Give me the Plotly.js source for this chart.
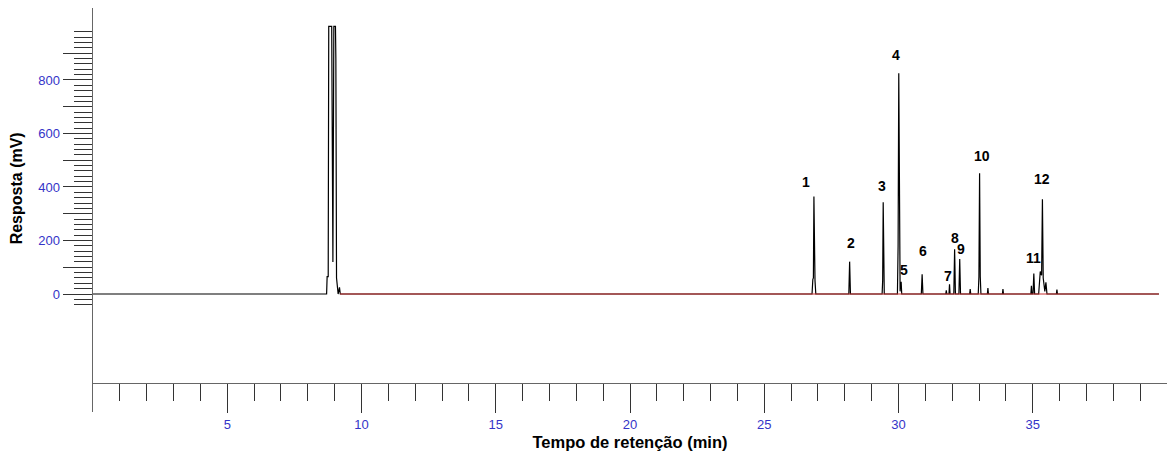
<!DOCTYPE html>
<html>
<head>
<meta charset="utf-8">
<script src="https://cdn.plot.ly/plotly-3.0.1.min.js"></script>
<style>
html,body{margin:0;padding:0;background:#fff;}
#chart{width:1167px;height:452px;}
</style>
</head>
<body>
<div id="chart"></div>
<script>
// Chromatogram signal (time in min, response in mV)
var signalTime = [
  0, 8.70, 8.72, 8.76, 8.78, 8.89, 8.935, 8.97, 9.03, 9.045, 9.07, 9.10, 9.13, 9.18, 9.21, 9.25,
  26.78, 26.81, 26.83, 26.85, 26.87, 26.89, 26.92,
  28.15, 28.18, 28.21,
  29.39, 29.41, 29.43, 29.45, 29.47,
  29.96, 29.985, 30.01, 30.035, 30.06, 30.08, 30.10, 30.12,
  30.85, 30.88, 30.91,
  31.76, 31.78, 31.80,
  31.88, 31.90, 31.92,
  32.06, 32.09, 32.12,
  32.25, 32.28, 32.31,
  32.65, 32.67, 32.69,
  32.97, 32.995, 33.02, 33.045, 33.07,
  33.31, 33.33, 33.35,
  33.87, 33.89, 33.91,
  34.93, 34.95, 34.97, 35.01, 35.04, 35.07,
  35.22, 35.28, 35.33, 35.36, 35.39, 35.45, 35.49, 35.53,
  35.88, 35.90, 35.92,
  39.7
];
var signalValue = [
  0, 0, 65, 65, 1000, 1000, 120, 1000, 1000, 880, 60, 15, 0, 25, 0, 0,
  0, 55, 60, 364, 60, 50, 0,
  0, 121, 0,
  0, 50, 343, 50, 0,
  0, 180, 825, 160, 10, 44, 44, 0,
  0, 74, 0,
  0, 14, 0,
  0, 36, 0,
  0, 167, 0,
  0, 131, 0,
  0, 18, 0,
  0, 65, 451, 65, 0,
  0, 22, 0,
  0, 18, 0,
  0, 31, 0, 0, 77, 0,
  0, 84, 70, 354, 60, 10, 44, 0,
  0, 17, 0,
  0
];
// Integration baseline
var baseTime = [9.2, 39.7];
var baseValue = [0, 0];

// Peak numbers and label anchor points (min, mV)
var peakLabels = ['1','2','3','4','5','6','7','8','9','10','11','12'];
var labelTime  = [26.54, 28.22, 29.40, 29.89, 30.20, 30.91, 31.84, 32.10, 32.34, 33.12, 35.04, 35.36];
var labelValue = [420, 191, 405, 893, 90, 162, 67, 208, 167, 516, 133, 429];

// Axis ticks
var xMajorTicks = [5, 10, 15, 20, 25, 30, 35];
var xMajorText  = ['5', '10', '15', '20', '25', '30', '35'];
var xMinorTicks = [1,2,3,4,6,7,8,9,11,12,13,14,16,17,18,19,21,22,23,24,26,27,28,29,31,32,33,34,36,37,38,39];
var yMajorTicks = [0, 100, 200, 300, 400, 500, 600, 700, 800, 900];
var yMajorText  = ['0', '', '200', '', '400', '', '600', '', '800', ''];
var yMinorTicks = [-40,-20,20,40,60,80,120,140,160,180,220,240,260,280,320,340,360,380,
  420,440,460,480,520,540,560,580,620,640,660,680,720,740,760,780,820,840,860,880,
  920,940,960,980];

var FONT = 'Arial, "Liberation Sans", sans-serif';
var TICKBLUE = '#3434c8';

var traces = [
  {x: signalTime, y: signalValue, type: 'scatter', mode: 'lines',
   line: {color: '#000', width: 1.2}, hoverinfo: 'skip'},
  {x: baseTime, y: baseValue, type: 'scatter', mode: 'lines',
   line: {color: '#c83030', width: 1}, hoverinfo: 'skip'}
];

var annotations = peakLabels.map(function (t, i) {
  return {x: labelTime[i], y: labelValue[i], xref: 'x', yref: 'y', text: '<b>' + t + '</b>',
          showarrow: false, xanchor: 'center', yanchor: 'middle',
          font: {family: FONT, size: 14, color: '#000'}};
});
annotations.push({
  xref: 'paper', yref: 'paper', x: -0.071, y: 0.553, text: '<b>Resposta (mV)</b>',
  textangle: -90, showarrow: false, xanchor: 'center', yanchor: 'middle',
  font: {family: FONT, size: 16, color: '#000'}
});

var layout = {
  width: 1167, height: 452,
  margin: {l: 93, r: 0, t: 8, b: 40, pad: 0},
  paper_bgcolor: '#fff', plot_bgcolor: '#fff',
  showlegend: false,
  font: {family: FONT, size: 13, color: TICKBLUE},
  xaxis: {
    range: [0, 40], anchor: 'free', position: 0.0725,
    showline: true, linecolor: '#666', linewidth: 1.5,
    showgrid: false, zeroline: false,
    tickmode: 'array', tickvals: xMajorTicks, ticktext: xMajorText,
    ticks: 'outside', ticklen: 29, tickwidth: 1, tickcolor: '#333',
    tickfont: {family: FONT, size: 13, color: TICKBLUE},
    minor: {tickmode: 'array', tickvals: xMinorTicks, ticks: 'outside', ticklen: 17, tickwidth: 1, tickcolor: '#333', showgrid: false},
    title: {text: '<b>Tempo de retenção (min)</b>', standoff: 5, font: {family: FONT, size: 16.5, color: '#000'}},
    fixedrange: true
  },
  yaxis: {
    range: [-441, 1069],
    showline: true, linecolor: '#666', linewidth: 1.5,
    showgrid: false, zeroline: false,
    tickmode: 'array', tickvals: yMajorTicks, ticktext: yMajorText,
    ticks: 'outside', ticklen: 29, tickwidth: 1, tickcolor: '#333',
    tickfont: {family: FONT, size: 13, color: TICKBLUE},
    minor: {tickmode: 'array', tickvals: yMinorTicks, ticks: 'outside', ticklen: 18, tickwidth: 1, tickcolor: '#333', showgrid: false},
    fixedrange: true
  },
  annotations: annotations
};

Plotly.newPlot('chart', traces, layout, {staticPlot: true, displayModeBar: false});
</script>
</body>
</html>
